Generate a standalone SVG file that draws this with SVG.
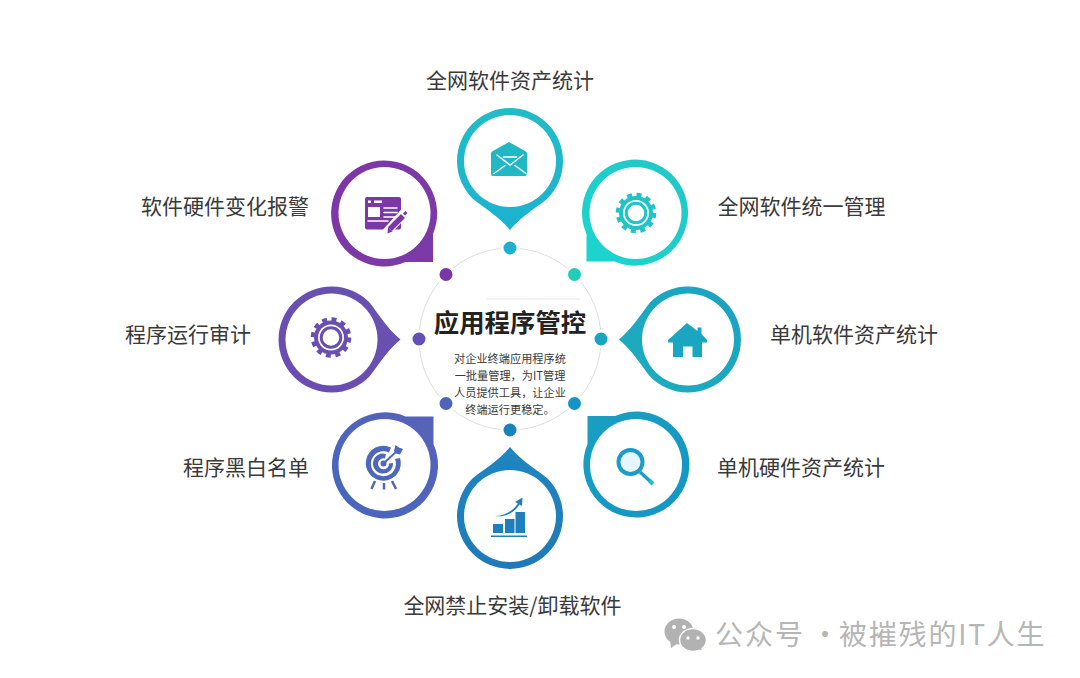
<svg xmlns="http://www.w3.org/2000/svg" xmlns:xlink="http://www.w3.org/1999/xlink" width="1080" height="678" viewBox="0 0 1080 678">
<style>
text{font-family:"Noto Sans CJK SC","Noto Sans",sans-serif}
.lb{font-size:21px;fill:#3a3a3a;text-anchor:middle}
.ds{font-size:11.2px;fill:#3a3a3a;text-anchor:middle}
.hole{fill:#fff}
.dot{stroke:#fff;stroke-width:3}
.w{fill:none;stroke:#fff;stroke-linecap:round}
</style>
<defs>
<linearGradient id="gTop" x1="0" y1="0" x2="0" y2="1"><stop offset="0" stop-color="#21bcc6"/><stop offset="1" stop-color="#1cb2d0"/></linearGradient>
<linearGradient id="gPur" x1="0" y1="0" x2="1" y2="1"><stop offset="0" stop-color="#7e36a8"/><stop offset="1" stop-color="#7a3aa6"/></linearGradient>
<linearGradient id="gTeal" x1="0" y1="0" x2="1" y2="1"><stop offset="0" stop-color="#22c6c8"/><stop offset="1" stop-color="#1ad6cf"/></linearGradient>
<linearGradient id="gLeft" x1="0" y1="0" x2="1" y2="1"><stop offset="0" stop-color="#6a4cb2"/><stop offset="1" stop-color="#6752b0"/></linearGradient>
<linearGradient id="gRight" x1="0" y1="0" x2="1" y2="1"><stop offset="0" stop-color="#18a2c2"/><stop offset="1" stop-color="#1fadbe"/></linearGradient>
<linearGradient id="gBL" x1="0" y1="0" x2="1" y2="1"><stop offset="0" stop-color="#4767bd"/><stop offset="1" stop-color="#5762b8"/></linearGradient>
<linearGradient id="gBR" x1="0" y1="0" x2="1" y2="1"><stop offset="0" stop-color="#1296c4"/><stop offset="1" stop-color="#1a9fc2"/></linearGradient>
<linearGradient id="gBot" x1="0" y1="0" x2="0" y2="1"><stop offset="0" stop-color="#1f79b8"/><stop offset="1" stop-color="#1e86c0"/></linearGradient>
<g id="pinTip">
<path d="M-37,38 A53,53 0 1 1 37,38 C24,48 11,56 0,69 C-11,56 -24,48 -37,38Z"/>
<circle class="hole" r="46"/>
</g>
<g id="pinCorner">
<path d="M48.5,21 L48.5,49 L21,49 A53,53 0 1 1 48.5,21Z"/>
<circle class="hole" r="46"/>
</g>
<g id="gear">
<circle r="18.3" fill="none" stroke="currentColor" stroke-width="4" stroke-dasharray="5 4.58"/>
<circle r="17" fill="currentColor"/>
<circle r="13" fill="#fff"/>
<circle r="9.8" fill="none" stroke="currentColor" stroke-width="3"/>
</g>
</defs>
<rect width="1080" height="678" fill="#fff"/>

<g id="connectors">
<circle cx="510" cy="339" r="91" fill="none" stroke="#dedede" stroke-width="1"/>
<path d="M487,299H580" stroke="#e8e8e8" stroke-width="1" fill="none"/>
<circle class="dot" cx="510" cy="248" r="8" fill="#1eb0cf"/>
<circle class="dot" cx="446" cy="274.500" r="8" fill="#7a36a6"/>
<circle class="dot" cx="574.500" cy="274.500" r="8" fill="#1fcdb8"/>
<circle class="dot" cx="419" cy="339" r="8" fill="#6450b4"/>
<circle class="dot" cx="601" cy="339" r="8" fill="#1ba4c0"/>
<circle class="dot" cx="446" cy="403.500" r="8" fill="#5062ba"/>
<circle class="dot" cx="574.500" cy="403.500" r="8" fill="#1693c8"/>
<circle class="dot" cx="510" cy="430" r="8" fill="#1a82bc"/>
</g>

<g id="center">
<text x="510" y="332" text-anchor="middle" font-size="25.400" font-weight="700" fill="#222">应用程序管控</text>
<text class="ds" x="510" y="362.500">对企业终端应用程序统</text>
<text class="ds" x="510" y="379.500">一批量管理，为IT管理</text>
<text class="ds" x="510" y="397">人员提供工具，让企业</text>
<text class="ds" x="510" y="414">终端运行更稳定。</text>
</g>

<g id="node-top">
<use xlink:href="#pinTip" href="#pinTip" transform="translate(510,161)" fill="url(#gTop)"/>
<path d="M491,153.500 Q491,152 492.500,151.200 L509,142 L525.500,151.200 Q527,152 527,153.500 V174 Q527,176 525,176 H493 Q491,176 491,174Z" fill="#20b8c4"/>
<path class="w" stroke-width="1.500" d="M497,155 L510,165 L523,155 M503.500,157 H516.500 M494,173.500 L505,165.500 M526,173.500 L515,165.500"/>
<text class="lb" x="510" y="88">全网软件资产统计</text>
</g>

<g id="node-purple">
<use xlink:href="#pinCorner" href="#pinCorner" transform="translate(384.500,213)" fill="url(#gPur)"/>
<rect x="365" y="197" width="36" height="32.500" rx="2" fill="#7b37a6"/>
<path d="M368,200.500h3v2.500h-3z M374,200.500h8v2.500h-8z M368,207h12v10h-12z" fill="#fff"/>
<path class="w" stroke-width="1.600" stroke-linecap="butt" d="M384,208H397 M384,212.500H397 M384,217H395 M368,221H388"/>
<path d="M385,234 L405,212" stroke="#fff" stroke-width="9" fill="none"/>
<path d="M390,229 L403,216" stroke="#7b37a6" stroke-width="5.500" fill="none"/>
<path d="M404,214.500 L406.500,212" stroke="#7b37a6" stroke-width="3" fill="none"/>
<path d="M388,227 L392.500,231.500 L387.500,233.500Z" fill="#7b37a6"/>
<text class="lb" x="225" y="213.500">软件硬件变化报警</text>
</g>

<g id="node-teal">
<use xlink:href="#pinCorner" href="#pinCorner" transform="translate(635.500,213) rotate(90)" fill="url(#gTeal)"/>
<use xlink:href="#gear" href="#gear" transform="translate(636,213)" color="#20c4c6"/>
<text class="lb" x="801.500" y="213.500">全网软件统一管理</text>
</g>

<g id="node-left">
<use xlink:href="#pinTip" href="#pinTip" transform="translate(331.500,339.500) rotate(-90)" fill="url(#gLeft)"/>
<use xlink:href="#gear" href="#gear" transform="translate(331,337.500)" color="#6a4fb0"/>
<text class="lb" x="188" y="341.500">程序运行审计</text>
</g>

<g id="node-right">
<use xlink:href="#pinTip" href="#pinTip" transform="translate(688,339.500) rotate(90)" fill="url(#gRight)"/>
<path d="M687,323 L697.500,331 V327.500 H701.500 V334 L707,340 V342.500 H702 V357 H692.500 V346.500 H683 V357 H673 V342.500 H668 V340Z" fill="#1aa6c0"/>
<text class="lb" x="854" y="341.500">单机软件资产统计</text>
</g>

<g id="node-bl">
<use xlink:href="#pinCorner" href="#pinCorner" transform="translate(384.500,465) rotate(-90)" fill="url(#gBL)"/>
<path d="M400,458 A17.500,17.500 0 1 1 391,447.500 L389,452.500 A12.500,12.500 0 1 0 395,459Z" fill="#4f67bb"/>
<path d="M393,463 A10,10 0 1 1 386,454 L385,458.500 A5.500,5.500 0 1 0 389,463.500Z" fill="#4f67bb"/>
<circle cx="383.500" cy="463.500" r="3" fill="#4f67bb"/>
<path d="M384,463 L397,451" stroke="#4f67bb" stroke-width="2" fill="none"/>
<path d="M394,451 L395.500,445 L399,447.500 L403,449 L400,454.500 L396,453.500Z" fill="#4f67bb"/>
<path d="M375,481 L371.500,489 M384,483 V489.500 M392,481 L396,489" stroke="#4f67bb" stroke-width="2.500" fill="none"/>
<text class="lb" x="246" y="474.500">程序黑白名单</text>
</g>

<g id="node-br">
<use xlink:href="#pinCorner" href="#pinCorner" transform="translate(636,465) rotate(180)" fill="url(#gBR)"/>
<circle cx="630.500" cy="462" r="12" fill="#e6f6fc" stroke="#1d9ccb" stroke-width="4"/>
<path d="M640,472 L651,482" stroke="#1d9ccb" stroke-width="3.500" fill="none"/>
<path d="M649.500,480.500 L653,484" stroke="#1fc3b4" stroke-width="4" fill="none"/>
<text class="lb" x="801" y="474.500">单机硬件资产统计</text>
</g>

<g id="node-bottom">
<use xlink:href="#pinTip" href="#pinTip" transform="translate(510,516) rotate(180)" fill="url(#gBot)"/>
<path d="M493,524h10v9h-10z M505,519h9.500v14h-9.500z M515.500,512h9.500v21h-9.500z M491,535.500h36v1.500h-36z" fill="#1f7fbc"/>
<path d="M495,516 C505,515.500 513,511 518,503.500 L515,502 L522.500,497.500 L522,506 L519.500,504.500 C514,513 505,517.500 495,516Z" fill="#1f7fbc"/>
<text class="lb" x="512.500" y="613">全网禁止安装/卸载软件</text>
</g>

<g id="watermark">
<ellipse cx="679" cy="631.500" rx="14.500" ry="13" fill="#b2b2b2"/>
<path d="M670,640 L671,648 L678,643Z" fill="#b2b2b2"/>
<ellipse cx="693" cy="640" rx="13.500" ry="11.500" fill="#b2b2b2" stroke="#fff" stroke-width="1.500"/>
<path d="M696,649 L702,650 L700,646Z" fill="#b2b2b2"/>
<circle cx="674" cy="627" r="2" fill="#fff"/><circle cx="684" cy="627" r="2" fill="#fff"/>
<circle cx="688" cy="638" r="1.700" fill="#fff"/><circle cx="698" cy="638" r="1.700" fill="#fff"/>
<text y="644.500" font-size="28" letter-spacing="2" fill="#b6b6b6"><tspan x="715">公众号</tspan></text>
<text x="811" y="644.500" font-size="28" fill="#b6b6b6">·</text>
<text x="839" y="644.500" font-size="28" letter-spacing="1.800" fill="#b6b6b6">被摧残的IT人生</text>
</g>
</svg>
